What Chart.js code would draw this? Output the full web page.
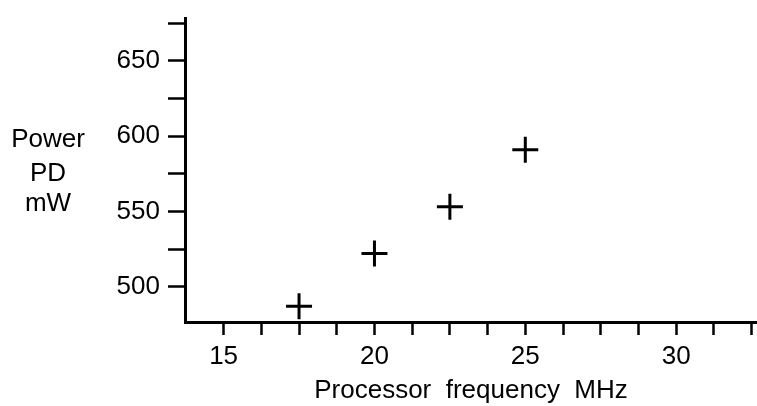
<!DOCTYPE html>
<html>
<head>
<meta charset="utf-8">
<script src="https://cdn.jsdelivr.net/npm/chart.js@4/dist/chart.umd.min.js"></script>
<style>
html,body{margin:0;padding:0;background:#fff;}
#wrap{width:757px;height:406px;position:relative;}
</style>
</head>
<body>
<div id="wrap"><canvas id="c" width="757" height="406"></canvas></div>
<script>
// Data
const frequencyMHz = [17.5, 20, 22.5, 25];
const powerMW = [487, 522, 553, 591];
const xTickValues = [15, 16.25, 17.5, 18.75, 20, 21.25, 22.5, 23.75, 25, 26.25, 27.5, 28.75, 30, 31.25, 32.5];
const xTickLabels = [15, 20, 25, 30];
const yTickValues = [500, 525, 550, 575, 600, 625, 650, 675];
const yTickLabels = [500, 550, 600, 650];
const yTitleLines = ['Power', 'PD', 'mW'];
const xTitle = 'Processor  frequency  MHz';

const FONT = 'Liberation Sans, Arial, Helvetica, sans-serif';

const sideTitle = {
  id: 'sideTitle',
  afterDraw(chart) {
    const ctx = chart.ctx;
    ctx.save();
    ctx.fillStyle = '#000';
    ctx.font = '26px ' + FONT;
    ctx.textAlign = 'center';
    ctx.textBaseline = 'alphabetic';
    const base = [147, 181, 211];
    yTitleLines.forEach((t, i) => ctx.fillText(t, 48, base[i]));
    ctx.restore();
  }
};

new Chart(document.getElementById('c'), {
  type: 'scatter',
  data: {
    datasets: [{
      data: frequencyMHz.map((x, i) => ({x: x, y: powerMW[i]})),
      pointStyle: 'cross',
      pointRadius: 13,
      pointHoverRadius: 13,
      borderColor: '#000',
      backgroundColor: '#000',
      borderWidth: 3,
      pointBorderWidth: 3,
      showLine: false,
      clip: false
    }]
  },
  options: {
    responsive: false,
    animation: false,
    events: [],
    layout: {autoPadding: false, padding: {top: 18, right: 0, left: 0, bottom: 0}},
    plugins: {legend: {display: false}, tooltip: {enabled: false}},
    scales: {
      x: {
        type: 'linear',
        min: 13.72,
        max: 32.68,
        afterBuildTicks: s => { s.ticks = xTickValues.map(v => ({value: v})); },
        afterFit: s => { s.height = 84; s.paddingLeft = 0; s.paddingRight = 0; },
        border: {display: true, color: '#000', width: 3},
        grid: {drawOnChartArea: false, drawTicks: true, tickLength: 13, tickWidth: 2.5, tickColor: '#000', color: '#000'},
        ticks: {
          autoSkip: false,
          maxRotation: 0,
          padding: 6,
          color: '#000',
          font: {family: FONT, size: 26},
          callback: v => xTickLabels.includes(v) ? String(v) : ''
        },
        title: {display: true, text: xTitle, color: '#000', font: {family: FONT, size: 26}, padding: {top: 0, bottom: 0}}
      },
      y: {
        type: 'linear',
        min: 476.5,
        max: 678.5,
        afterBuildTicks: s => { s.ticks = yTickValues.map(v => ({value: v})); },
        afterFit: s => { s.width = 185; s.paddingTop = 0; s.paddingBottom = 0; },
        border: {display: true, color: '#000', width: 3},
        grid: {drawOnChartArea: false, drawTicks: true, tickLength: 17, tickWidth: 2.5, tickColor: '#000', color: '#000'},
        ticks: {
          autoSkip: false,
          padding: 8,
          color: '#000',
          font: {family: FONT, size: 26},
          callback: v => yTickLabels.includes(v) ? String(v) : ''
        }
      }
    }
  },
  plugins: [sideTitle]
});
</script>
</body>
</html>
